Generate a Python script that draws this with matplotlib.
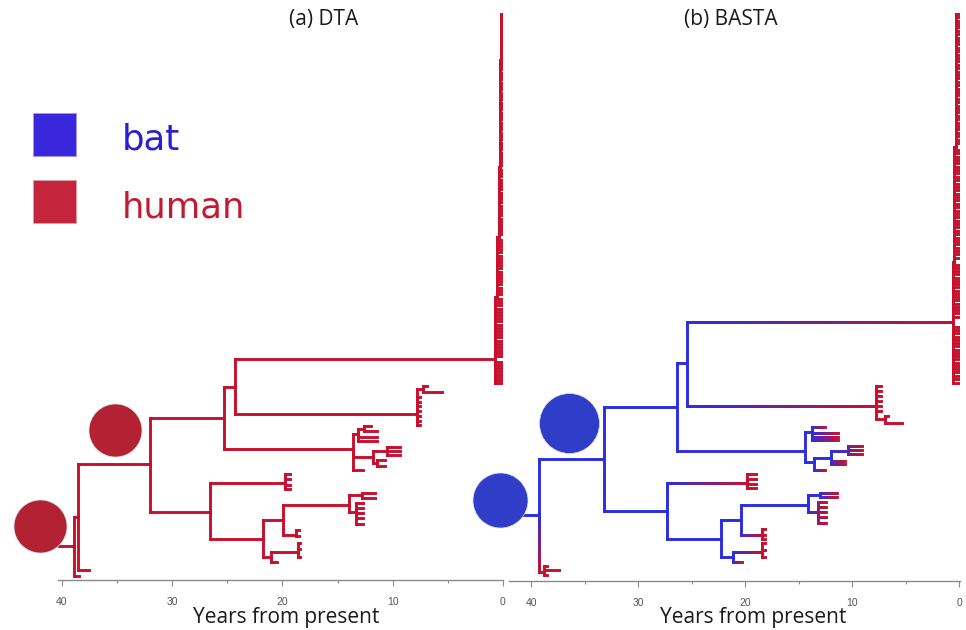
import numpy as np
import pandas as pd
import matplotlib
matplotlib.use("Agg")
import matplotlib.pyplot as plt
from matplotlib.collections import LineCollection
from matplotlib.colors import to_rgb
from matplotlib.patches import Rectangle

# rows: (node, parent, age in years before present, vertical slot, host state 0=bat 1=human)
dta_backbone = [
    ("root", None, 38.9, 546, 1),
    ("a1", "root", 38.5, 517, 1),
    ("a0", "root", 38.4, 576, 1),
    ("a2", "a1", 32.0, 464, 1),
    ("t1", "a1", 37.5, 570, 1),
    ("a3", "a2", 25.3, 418, 1),
    ("a4", "a2", 26.6, 512, 1),
    ("a5", "a3", 24.3, 387, 1),
    ("a6", "a3", 13.6, 449, 1),
    ("a7", "a4", 19.8, 483, 1),
    ("a8", "a4", 21.8, 539, 1),
    ("a9", "a8", 19.9, 520, 1),
    ("a10", "a8", 21.0, 557, 1),
    ("a11", "a9", 14.0, 505, 1),
    ("a12", "a9", 18.8, 535, 1),
    ("a13", "a10", 18.6, 552, 1),
    ("a14", "a10", 20.5, 562, 1),
    ("c7", "a5", 7.8, 414, 1),
    ("k0", "a5", 0.73, 359, 1),
]
dta_subclades = [
    ("c7a", "c7", 7.25, 389, 1),
    ("a6a", "a6", 13.15, 434, 1),
    ("a6a1", "a6a", 12.6, 429, 1),
    ("a6b", "a6", 11.8, 457, 1),
    ("a6b1", "a6b", 10.5, 451, 1),
    ("a6b2", "a6b", 11.4, 463, 1),
    ("a11a", "a11", 12.8, 495, 1),
    ("a11b", "a11", 13.3, 512, 1),
    ("k1", "k0", 0.52, 297, 1),
    ("k2", "k1", 0.36, 237, 1),
    ("k3", "k2", 0.27, 167, 1),
    ("k4", "k3", 0.15, 60, 1),
]
# tip groups: (parent, tip age, vertical slots, host state)
dta_tips = [
    ("c7a", 6.9, [386], 1), ("c7a", 5.5, [392], 1),
    ("c7", 7.5, [397, 402, 406, 411, 416, 421, 425], 1),
    ("a6a1", 12.0, [426], 1), ("a6a1", 11.4, [431], 1),
    ("a6a", 11.4, [437, 441], 1),
    ("a6b1", 9.3, [447, 451, 455], 1),
    ("a6b2", 10.7, [460, 466], 1),
    ("a6", 12.7, [470], 1),
    ("a7", 19.3, [474, 479, 485, 489], 1),
    ("a11a", 11.6, [493, 498], 1),
    ("a11b", 12.7, [503, 508, 513, 518, 524], 1),
    ("a12", 18.45, [530, 536], 1),
    ("a13", 18.4, [543, 549, 557], 1),
    ("k0", 0.03, [299, 302, 305, 309, 312, 315, 318, 321, 325, 328, 331, 334, 337,
                  341, 344, 347, 350, 353, 356, 362, 365, 368, 371, 374, 377, 380, 383], 1),
    ("k1", 0.03, [240, 243, 246, 249, 252, 256, 259, 262, 265, 268, 272, 275, 278,
                  281, 284, 288, 291, 294], 1),
    ("k2", 0.03, [170, 173, 176, 180, 183, 186, 189, 193, 196, 199, 202, 206, 209,
                  212, 215, 219, 222, 225, 228, 231, 234], 1),
    ("k3", 0.03, [63, 66, 69, 73, 76, 79, 83, 86, 89, 93, 96, 99, 103, 106, 109, 113,
                  116, 119, 123, 126, 129, 133, 136, 139, 143, 146, 149, 153, 156,
                  159, 162, 165], 1),
    ("k4", 0.03, [14, 17, 20, 24, 27, 30, 34, 37, 40, 44, 47, 50, 54, 57], 1),
]
dta_root_stem = 42.0
# ancestral state pies: (age, slot, diameter px)
dta_circles = [(42.0, 526, 53), (35.2, 430, 53)]

basta_backbone = [
    ("root", None, 39.25, 515, 0),
    ("b2", "root", 33.2, 459, 0),
    ("bs", "root", 38.8, 572, 1),
    ("b3", "b2", 26.35, 407, 0),
    ("b4", "b2", 27.3, 511, 0),
    ("b5", "b3", 25.4, 363, 0),
    ("b6", "b3", 14.4, 451, 0),
    ("b7", "b4", 19.8, 483, 1),
    ("b8", "b4", 22.2, 539, 0),
    ("b9", "b8", 20.4, 520, 0),
    ("b10", "b8", 21.1, 557, 0),
    ("b11", "b9", 14.1, 505, 0),
    ("b12", "b9", 18.4, 535, 1),
    ("b13", "b10", 18.4, 552, 1),
    ("b14", "b10", 20.3, 562, 1),
    ("c7", "b5", 7.75, 406, 1),
    ("k0", "b5", 0.55, 322, 1),
]
basta_subclades = [
    ("b6a", "b6", 13.7, 432, 0),
    ("b6b", "b6", 13.55, 462, 0),
    ("b6b1", "b6b", 12.0, 458, 0),
    ("b6b1a", "b6b1", 10.4, 451, 0.3),
    ("b11a", "b11", 13.0, 495, 0),
    ("b11b", "b11", 13.2, 512, 0.6),
    ("c7a", "c7", 6.9, 419, 1),
    ("k1", "k0", 0.45, 262, 1),
    ("k2", "k1", 0.25, 147, 1),
]
basta_tips = [
    ("bs", 37.4, [570], 1), ("bs", 38.5, [566, 575], 1),
    ("b6a", 12.5, [427], 1), ("b6a", 11.3, [433, 437, 440], 1),
    ("b6b1a", 9.1, [446, 450, 454], 1),
    ("b6b1", 10.7, [461, 464], 1),
    ("b6b", 12.5, [470], 1),
    ("b7", 19.0, [474, 479, 484, 488], 1),
    ("b11a", 11.4, [493, 497], 1),
    ("b11b", 12.4, [502, 507, 512, 517, 523], 1),
    ("b12", 18.15, [529, 535, 539], 1),
    ("b13", 18.15, [543, 550, 557], 1),
    ("c7", 7.3, [386, 391, 396, 401, 406, 411], 1),
    ("c7a", 6.6, [416], 1), ("c7a", 5.3, [423], 1),
    ("k0", 0.0, [265, 268, 271, 274, 278, 281, 284, 287, 291, 294, 297, 300, 304,
                 307, 310, 313, 317, 327, 330, 333, 337, 340, 343, 346, 350, 353,
                 356, 359, 363, 366, 369, 372, 376, 379, 383], 1),
    ("k1", 0.0, [150, 153, 157, 160, 163, 167, 170, 173, 177, 180, 184, 187, 190,
                 194, 197, 200, 204, 207, 211, 214, 217, 221, 224, 227, 231, 234,
                 238, 241, 244, 248, 251, 254, 258], 1),
    ("k2", 0.0, [14, 17, 21, 24, 27, 31, 34, 38, 41, 44, 48, 51, 55, 58, 61, 65,
                 68, 72, 75, 78, 82, 85, 89, 92, 95, 99, 102, 106, 109, 112, 116,
                 119, 123, 126, 129, 133, 136, 140, 143], 1),
]
basta_root_stem = 42.9
basta_mixed_connectors = ["bs"]
basta_circles = [(42.9, 500, 55), (36.45, 423, 60)]

major_ticks = [40, 30, 20, 10, 0]
minor_ticks = [35, 25, 15, 5]
legend_labels = ["bat", "human"]

BAT = "#2a2ee0"
HUMAN = "#c8102e"


def build(backbone, subclades, tips):
    rows = list(backbone) + list(subclades)
    for parent, age, slots, state in tips:
        for y in slots:
            rows.append((f"{parent}_{age}_{y}", parent, age, y, state))
    return pd.DataFrame(rows, columns=["node", "parent", "age", "y", "state"]).set_index("node")


def host_color(s):
    b, h = np.array(to_rgb(BAT)), np.array(to_rgb(HUMAN))
    return tuple(b + (h - b) * s)


def graded(x0, y0, x1, y1, s0, s1, n):
    xs = np.linspace(x0, x1, n + 1)
    ys = np.linspace(y0, y1, n + 1)
    segs = [[(xs[i], ys[i]), (xs[i + 1], ys[i + 1])] for i in range(n)]
    cols = [host_color(s0 + (s1 - s0) * (i + 0.5) / n) for i in range(n)]
    return segs, cols


def draw_tree(ax, nodes, stem_age, mixed=()):
    hsegs, hcols, vsegs, vcols = [], [], [], []
    for name, row in nodes.iterrows():
        if row.parent is None:
            hsegs.append([(stem_age, row.y), (row.age, row.y)])
            hcols.append(host_color(row.state))
            continue
        par = nodes.loc[row.parent]
        if name in mixed:
            s, c = graded(par.age, par.y, par.age, row.y, par.state, row.state, 20)
            vsegs += s
            vcols += c
            hsegs.append([(par.age, row.y), (row.age, row.y)])
            hcols.append(host_color(row.state))
            continue
        vsegs.append([(par.age, par.y), (par.age, row.y)])
        vcols.append(host_color(par.state))
        if par.state == row.state:
            hsegs.append([(par.age, row.y), (row.age, row.y)])
            hcols.append(host_color(row.state))
        else:
            n = max(4, int(abs(par.age - row.age) * 4))
            s, c = graded(par.age, row.y, row.age, row.y, par.state, row.state, n)
            hsegs += s
            hcols += c
    ax.add_collection(LineCollection(vsegs, colors=vcols, linewidths=2.1, capstyle="projecting"))
    ax.add_collection(LineCollection(hsegs, colors=hcols, linewidths=2.1, capstyle="projecting"))


def style_axis(ax):
    for side in ("left", "top", "right"):
        ax.spines[side].set_visible(False)
    ax.spines["bottom"].set_color("#8a8a8a")
    ax.spines["bottom"].set_linewidth(1.0)
    ax.set_yticks([])
    ax.set_xticks(major_ticks)
    ax.set_xticklabels([str(t) for t in major_ticks], family="Liberation Sans")
    ax.set_xticks(minor_ticks, minor=True)
    ax.tick_params(axis="x", which="major", direction="out", length=4, width=0.8,
                   color="#8a8a8a", labelsize=7.5, labelcolor="#555555", pad=8)
    ax.tick_params(axis="x", which="minor", direction="out", length=2, width=0.8,
                   color="#8a8a8a")
    ax.patch.set_alpha(0)


dta = build(dta_backbone, dta_subclades, dta_tips)
basta = build(basta_backbone, basta_subclades, basta_tips)

fig = plt.figure(figsize=(9.66, 6.3), dpi=100)
ax_l = fig.add_axes([58 / 966, 50 / 630, 445 / 966, 580 / 630])
ax_r = fig.add_axes([509 / 966, 49 / 630, 451 / 966, 581 / 630])
ax_l.set_xlim(40.34, 0)
ax_l.set_ylim(580, 0)
ax_r.set_xlim(42.06, -0.09)
ax_r.set_ylim(581, 0)

draw_tree(ax_l, dta, dta_root_stem)
draw_tree(ax_r, basta, basta_root_stem, basta_mixed_connectors)

for ax, circles, col in [(ax_l, dta_circles, "#b22232"), (ax_r, basta_circles, "#2f3dc8")]:
    for age, y, d in circles:
        ax.scatter([age], [y], s=(d * 0.72) ** 2, color=col, edgecolors="#dddddd",
                   linewidths=0.5, zorder=5, clip_on=False)
    style_axis(ax)

fig.text(324 / 966, 1 - 20 / 630, "(a) DTA", ha="center", va="center",
         fontsize=15, family="Open Sans", color="#1a1a1a")
fig.text(731 / 966, 1 - 19 / 630, "(b) BASTA", ha="center", va="center",
         fontsize=15, family="Open Sans", color="#1a1a1a")
fig.text(286 / 966, 1 - 618 / 630, "Years from present", ha="center", va="center",
         fontsize=15, family="Open Sans", color="#1a1a1a")
fig.text(753 / 966, 1 - 618 / 630, "Years from present", ha="center", va="center",
         fontsize=15, family="Open Sans", color="#1a1a1a")

# legend
for i, (label, fill, txt) in enumerate(zip(legend_labels, ["#3b27db", "#c4243c"], ["#2a1fd6", "#c41a30"])):
    top = 113 + i * 67
    fig.patches.append(Rectangle((33 / 966, 1 - (top + 43) / 630), 43 / 966, 43 / 630,
                                 transform=fig.transFigure, facecolor=fill,
                                 edgecolor="#9a9af0" if i == 0 else "#e0a0a8", linewidth=0.6))
    fig.text(122 / 966, 1 - (top + 37) / 630, label, ha="left", va="baseline",
             fontsize=25.5, family="DejaVu Sans", color=txt)

fig.savefig("out.png", dpi=100)
